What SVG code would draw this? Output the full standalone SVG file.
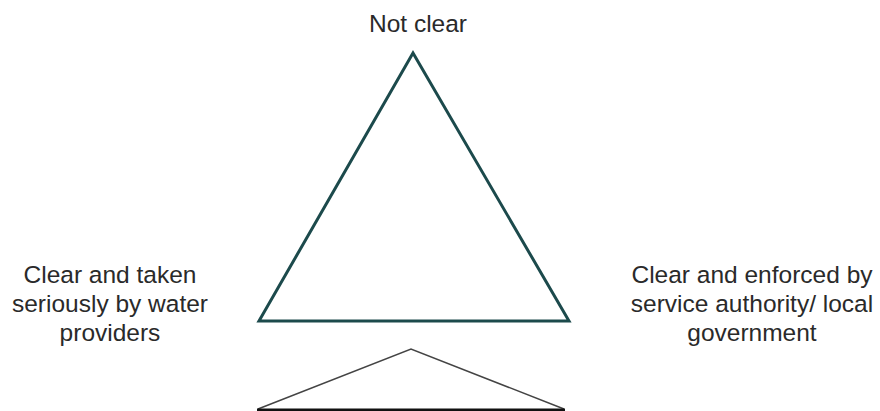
<svg xmlns="http://www.w3.org/2000/svg" width="880" height="411" viewBox="0 0 880 411">
<style>
.lbl{font-family:"Liberation Sans","DejaVu Sans",sans-serif;font-size:24.5px;fill:#2a2a2a;text-anchor:middle}
</style>
<rect width="880" height="411" fill="#fff"/>
<g id="main-triangle">
<polygon points="413,53 259,321 569,321" fill="none" stroke="#1c4a4c" stroke-width="3" stroke-linejoin="miter"/>
</g>
<g id="lower-triangle">
<polyline points="258,409 411,349 564,409" fill="none" stroke="#444" stroke-width="1.5"/>
<line x1="257" y1="410" x2="565" y2="410" stroke="#111" stroke-width="3"/>
</g>
<g id="label-top"><text class="lbl" x="418" y="32">Not clear</text></g>
<g id="label-left">
<text class="lbl" x="110" y="283">Clear and taken</text>
<text class="lbl" x="110" y="312">seriously by water</text>
<text class="lbl" x="110" y="341">providers</text>
</g>
<g id="label-right">
<text class="lbl" x="752" y="283">Clear and enforced by</text>
<text class="lbl" x="752" y="312">service authority/ local</text>
<text class="lbl" x="752" y="341">government</text>
</g>
</svg>
